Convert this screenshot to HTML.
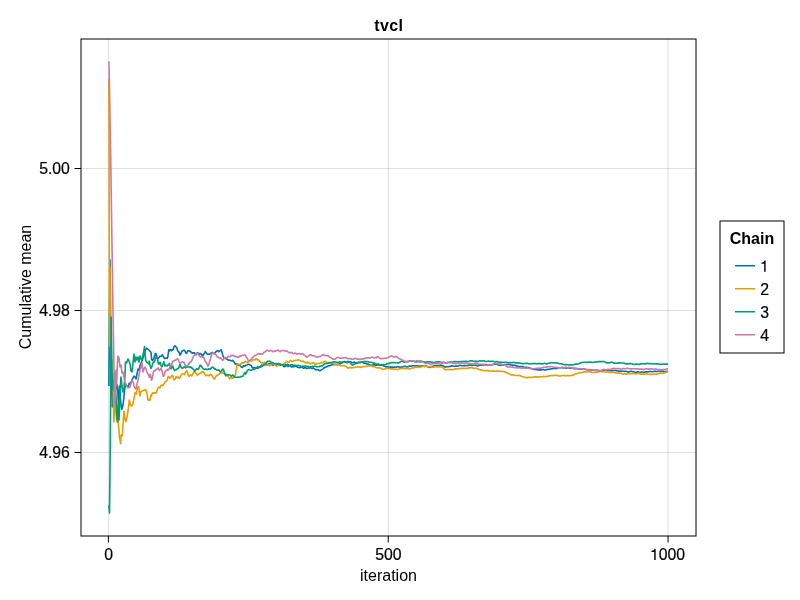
<!DOCTYPE html>
<html><head><meta charset="utf-8"><style>
html,body{margin:0;padding:0;background:#fff;}
svg{display:block;will-change:transform;}
.t{font-family:"Liberation Sans",sans-serif;font-size:16px;fill:#000;}
.tk{font-family:"Liberation Sans",sans-serif;font-size:15.8px;fill:#000;stroke:#000;stroke-width:0.2px;}
.tb{font-family:"Liberation Sans",sans-serif;font-size:16px;font-weight:bold;fill:#000;}
</style></head><body>
<svg width="800" height="600" viewBox="0 0 800 600">
<rect width="800" height="600" fill="#fff"/>
<line x1="81" y1="168.5" x2="696" y2="168.5" stroke="#000" stroke-opacity="0.12" stroke-width="1"/>
<line x1="81" y1="310.5" x2="696" y2="310.5" stroke="#000" stroke-opacity="0.12" stroke-width="1"/>
<line x1="81" y1="452.5" x2="696" y2="452.5" stroke="#000" stroke-opacity="0.12" stroke-width="1"/>
<line x1="108.39" y1="39" x2="108.39" y2="536" stroke="#000" stroke-opacity="0.12" stroke-width="1"/>
<line x1="388.22" y1="39" x2="388.22" y2="536" stroke="#000" stroke-opacity="0.12" stroke-width="1"/>
<line x1="668.05" y1="39" x2="668.05" y2="536" stroke="#000" stroke-opacity="0.12" stroke-width="1"/>
<polyline points="108.9,386.0 109.5,300.0 110.0,260.0 110.6,320.0 111.1,360.0 111.7,385.0 112.3,407.0 112.8,400.0 113.4,392.0 114.0,388.0 115.0,393.0 116.0,387.0 117.3,385.0 118.0,395.0 118.5,408.0 119.0,395.0 119.6,386.0 120.1,395.0 121.0,405.0 121.8,409.4 123.0,405.0 124.0,396.0 124.7,389.0 125.8,384.3 127.0,386.0 128.2,386.7 129.3,383.0 130.0,384.0 132.0,380.0 134.0,376.0 135.0,377.0 136.0,379.0 137.0,374.0 138.0,369.0 139.0,370.0 140.0,366.0 141.0,363.0 142.0,361.0 144.0,355.0 145.0,351.0 146.0,349.0 146.5,348.2 147.6,349.0 149.3,350.5 151.0,352.3 151.7,359.8 152.8,360.4 154.0,358.0 154.3,356.5 154.8,355.8 155.4,353.5 156.0,353.6 156.5,355.6 157.1,357.1 157.6,358.0 158.2,358.4 158.8,357.8 159.3,357.2 159.9,356.1 160.4,356.4 161.0,356.5 161.6,356.0 162.1,354.8 162.7,355.6 163.2,356.0 163.8,357.5 164.4,358.5 164.9,358.4 165.5,358.3 166.0,358.0 166.6,358.3 167.2,358.5 167.7,357.4 168.3,353.5 168.8,349.8 169.4,350.6 170.0,350.6 170.5,349.7 171.1,349.5 171.6,350.7 172.2,350.2 172.8,349.8 173.3,349.0 173.9,347.0 174.4,346.3 175.0,345.7 175.6,346.6 176.1,346.9 176.7,347.8 177.2,349.1 177.8,350.9 178.4,351.8 178.9,351.9 179.5,353.8 180.0,355.1 180.6,354.2 181.1,353.2 181.7,351.7 182.3,350.8 182.8,350.8 183.4,350.4 183.9,350.1 184.5,350.2 185.1,351.3 185.6,352.5 186.2,353.5 186.7,353.1 187.3,351.5 187.9,350.9 188.4,350.9 189.0,350.7 189.5,350.9 190.1,351.2 190.7,351.7 191.2,352.4 191.8,352.5 192.3,353.4 192.9,352.9 193.5,352.9 194.0,352.8 194.6,352.8 195.1,353.7 195.7,355.0 196.3,354.8 196.8,353.4 197.4,353.0 197.9,352.8 198.5,353.2 199.1,354.4 199.6,354.4 200.2,353.5 200.7,353.7 201.3,354.3 201.9,355.1 202.4,356.1 203.0,355.8 203.5,354.6 204.1,353.8 204.7,352.8 205.2,351.7 205.8,352.1 206.3,352.7 206.9,353.8 207.5,354.2 208.0,354.4 208.6,354.3 209.1,354.1 209.7,354.2 210.3,353.8 210.8,353.2 211.4,352.8 211.9,353.3 212.5,352.6 213.0,353.2 213.6,353.4 214.2,353.7 214.7,353.2 215.3,352.4 215.8,351.9 216.4,351.4 217.0,351.0 217.5,350.5 218.1,351.1 218.6,351.7 219.2,351.2 219.8,350.8 220.3,350.5 220.9,349.8 221.4,350.2 222.0,352.3 222.6,354.5 223.1,356.1 223.7,357.2 224.2,357.8 224.8,358.2 225.4,358.5 225.9,358.6 226.5,358.7 227.0,359.1 227.6,359.7 228.2,360.1 228.7,360.0 229.3,360.2 229.8,360.1 230.4,360.8 231.0,360.7 231.5,360.7 232.1,360.8 232.6,360.3 233.2,360.8 233.8,361.9 234.3,362.4 234.9,363.2 235.4,364.1 236.0,363.8 236.6,364.1 237.1,364.6 237.7,365.2 238.2,365.2 238.8,365.2 239.4,365.1 239.9,365.7 240.5,366.1 241.0,366.4 241.6,367.2 242.2,367.4 242.7,367.2 243.3,366.0 243.8,365.7 244.4,365.9 244.9,366.2 245.5,365.3 246.1,365.3 246.6,365.2 247.2,364.8 247.7,364.4 248.3,364.1 248.9,364.4 249.4,364.7 250.0,364.8 250.5,365.2 251.1,365.3 251.7,366.3 252.2,367.4 252.8,368.0 253.3,368.1 253.9,367.7 254.5,367.5 255.0,367.8 255.6,367.9 256.1,368.1 256.7,368.2 257.3,368.4 257.8,368.1 258.4,368.0 258.9,367.5 259.5,367.3 260.1,366.8 260.6,366.5 261.2,366.8 261.7,366.7 262.3,366.2 262.9,365.8 263.4,365.3 264.0,364.5 264.5,364.1 265.1,364.5 265.7,364.8 266.2,365.0 266.8,364.8 267.3,364.8 267.9,364.4 268.5,363.8 269.0,363.9 269.6,363.6 270.1,363.7 270.7,364.0 271.3,364.2 271.8,364.4 272.4,365.0 272.9,365.2 273.5,365.0 274.1,364.3 274.6,363.9 275.2,364.3 275.7,364.9 276.3,365.1 276.8,364.9 277.4,364.7 278.0,364.7 278.5,364.8 279.1,364.9 279.6,365.2 280.2,365.2 280.8,365.2 281.3,365.2 281.9,365.0 282.4,365.1 283.0,365.7 283.6,366.3 284.1,366.7 284.7,366.5 285.2,366.5 285.8,366.0 286.4,365.4 286.9,365.6 287.5,366.1 288.0,366.5 288.6,366.2 289.2,365.9 289.7,365.5 290.3,365.5 290.8,366.3 291.4,366.9 292.0,367.0 292.5,366.8 293.1,366.7 293.6,366.7 294.2,366.5 294.8,366.4 295.3,366.0 295.9,366.1 296.4,366.5 297.0,367.0 297.6,367.1 298.1,367.3 298.7,367.5 299.2,367.6 299.8,367.7 300.4,367.5 300.9,367.1 301.5,367.2 302.0,367.3 302.6,367.6 303.2,368.2 303.7,368.1 304.3,367.9 304.8,367.8 305.4,367.9 306.0,367.9 306.5,368.2 307.1,368.5 307.6,368.3 308.2,368.0 308.7,368.0 309.3,368.1 309.9,367.7 310.4,367.7 311.0,367.9 311.5,368.3 312.1,368.4 312.7,368.2 313.2,367.9 313.8,368.4 314.3,368.7 314.9,369.3 315.5,369.6 316.0,369.9 316.6,369.6 317.1,369.5 317.7,369.8 318.3,369.8 318.8,370.2 319.4,370.7 319.9,370.8 320.5,370.5 321.1,370.0 321.6,369.7 322.2,369.4 322.7,369.1 323.3,368.7 323.9,368.2 324.4,367.6 325.0,367.2 325.5,367.3 326.1,367.0 326.7,366.9 327.2,366.5 327.8,366.0 328.3,365.9 328.9,365.6 329.5,365.7 330.0,365.5 330.6,365.4 331.1,365.2 331.7,364.8 332.3,364.8 332.8,364.7 333.4,364.8 333.9,364.8 334.5,364.6 335.1,364.3 335.6,364.3 336.2,364.5 336.7,364.4 337.3,364.5 337.9,364.2 338.4,364.2 339.0,364.0 339.5,363.6 340.1,363.5 340.6,363.6 341.2,363.3 341.8,363.0 342.3,362.6 342.9,362.1 343.4,361.9 344.0,361.7 344.6,361.6 345.1,361.8 345.7,361.9 346.2,362.1 346.8,362.1 347.4,361.9 347.9,361.4 348.5,361.5 349.0,361.6 349.6,361.7 350.2,361.8 350.7,361.9 351.3,362.0 351.8,362.6 352.4,362.8 353.0,362.7 353.5,362.4 354.1,362.1 354.6,362.3 355.2,362.7 355.8,362.9 356.3,362.8 356.9,362.6 357.4,362.9 358.0,362.5 358.6,362.5 359.1,362.3 359.7,362.6 360.2,362.6 360.8,362.5 361.4,362.2 361.9,361.8 362.5,362.0 363.0,362.6 363.6,363.1 364.2,363.3 364.7,363.2 365.3,363.2 365.8,363.4 366.4,363.7 367.0,364.1 367.5,364.2 368.1,364.3 368.6,364.4 369.2,364.6 369.8,365.1 370.3,365.4 370.9,365.4 371.4,365.3 372.0,365.2 372.5,365.0 373.1,365.0 373.7,364.8 374.2,364.9 374.8,364.9 375.3,365.1 375.9,365.2 376.5,365.2 377.0,365.0 377.6,365.0 378.1,364.9 378.7,365.0 379.3,365.2 379.8,365.1 380.4,365.2 380.9,365.1 381.5,365.1 382.1,365.4 382.6,365.3 383.2,365.5 383.7,365.8 384.3,366.1 384.9,366.4 385.4,366.7 386.0,366.8 386.5,366.9 387.1,366.9 387.7,366.9 388.2,366.8 388.8,366.9 389.3,367.0 389.9,367.1 390.5,367.1 391.0,367.3 391.6,367.1 392.1,367.0 392.7,367.1 393.3,367.2 393.8,367.3 394.4,367.1 394.9,367.0 395.5,367.0 396.1,367.1 396.6,367.1 397.2,366.8 397.7,366.7 398.3,366.8 398.9,367.0 399.4,367.2 400.0,367.1 400.5,367.2 401.1,367.3 401.7,367.1 402.2,367.1 402.8,366.9 403.3,366.6 403.9,366.4 404.5,366.5 405.0,366.4 405.6,366.3 406.1,366.5 406.7,366.9 407.2,367.0 407.8,367.0 408.4,366.6 408.9,366.3 409.5,366.1 410.0,366.1 410.6,366.1 411.2,366.2 411.7,366.0 412.3,365.8 412.8,365.7 413.4,365.7 414.0,365.8 414.5,365.9 415.1,365.9 415.6,366.1 416.2,366.0 416.8,365.7 417.3,365.7 417.9,365.9 418.4,366.1 419.0,366.1 419.6,366.1 420.1,366.2 420.7,366.1 421.2,365.8 421.8,365.7 422.4,365.8 422.9,366.1 423.5,366.2 424.0,366.3 424.6,366.5 425.2,366.2 425.7,366.0 426.3,366.0 426.8,366.1 427.4,366.5 428.0,366.9 428.5,367.1 429.1,367.2 429.6,367.4 430.2,367.2 430.8,366.8 431.3,366.6 431.9,366.7 432.4,366.6 433.0,366.3 433.6,366.0 434.1,365.9 434.7,365.8 435.2,365.9 435.8,365.7 436.4,365.6 436.9,365.4 437.5,365.5 438.0,365.7 438.6,365.6 439.1,365.4 439.7,365.4 440.3,365.3 440.8,365.1 441.4,365.2 441.9,365.4 442.5,365.6 443.1,365.8 443.6,366.2 444.2,366.5 444.7,367.0 445.3,367.1 445.9,366.9 446.4,366.8 447.0,366.6 447.5,366.7 448.1,366.7 448.7,366.6 449.2,366.5 449.8,366.4 450.3,366.4 450.9,366.2 451.5,365.9 452.0,365.8 452.6,366.0 453.1,366.3 453.7,366.3 454.3,366.2 454.8,366.3 455.4,366.3 455.9,366.1 456.5,366.1 457.1,366.2 457.6,366.1 458.2,365.9 458.7,365.6 459.3,365.5 459.9,365.4 460.4,365.4 461.0,365.5 461.5,365.6 462.1,365.7 462.7,365.8 463.2,365.7 463.8,365.7 464.3,365.5 464.9,365.6 465.5,365.7 466.0,365.6 466.6,365.5 467.1,365.5 467.7,365.6 468.3,365.4 468.8,365.1 469.4,364.8 469.9,364.9 470.5,365.1 471.0,365.2 471.6,365.2 472.2,365.4 472.7,365.4 473.3,365.2 473.8,365.3 474.4,365.2 475.0,365.2 475.5,365.1 476.1,365.3 476.6,365.6 477.2,365.9 477.8,366.0 478.3,365.6 478.9,365.4 479.4,365.2 480.0,365.2 480.6,365.3 481.1,365.2 481.7,365.0 482.2,364.9 482.8,364.8 483.4,364.9 483.9,364.9 484.5,364.9 485.0,364.5 485.6,364.5 486.2,364.6 486.7,364.8 487.3,365.2 487.8,365.5 488.4,365.3 489.0,365.2 489.5,365.0 490.1,364.9 490.6,364.9 491.2,364.7 491.8,364.8 492.3,364.6 492.9,364.5 493.4,364.4 494.0,364.3 494.6,364.2 495.1,364.1 495.7,364.3 496.2,364.2 496.8,364.1 497.4,364.5 497.9,364.8 498.5,365.0 499.0,365.2 499.6,365.1 500.2,365.2 500.7,365.2 501.3,365.2 501.8,365.1 502.4,365.1 502.9,365.0 503.5,364.9 504.1,364.7 504.6,364.4 505.2,364.6 505.7,364.6 506.3,364.5 506.9,364.5 507.4,364.5 508.0,364.5 508.5,364.4 509.1,364.5 509.7,364.6 510.2,364.7 510.8,364.9 511.3,365.0 511.9,365.0 512.5,365.1 513.0,365.4 513.6,365.3 514.1,365.3 514.7,365.2 515.3,365.3 515.8,365.5 516.4,365.9 516.9,365.9 517.5,366.1 518.1,366.2 518.6,366.3 519.2,366.5 519.7,366.7 520.3,366.6 520.9,366.6 521.4,366.5 522.0,366.5 522.5,366.6 523.1,366.7 523.7,367.1 524.2,367.4 524.8,367.4 525.3,367.4 525.9,367.4 526.5,367.3 527.0,367.4 527.6,367.5 528.1,367.5 528.7,367.7 529.3,367.8 529.8,368.0 530.4,368.2 530.9,368.4 531.5,368.6 532.1,368.8 532.6,369.1 533.2,369.3 533.7,369.5 534.3,369.4 534.8,369.4 535.4,369.4 536.0,369.5 536.5,369.5 537.1,369.7 537.6,370.0 538.2,370.0 538.8,369.9 539.3,369.9 539.9,369.9 540.4,369.9 541.0,369.9 541.6,369.8 542.1,369.8 542.7,369.7 543.2,369.6 543.8,369.6 544.4,369.9 544.9,370.0 545.5,369.9 546.0,369.7 546.6,369.6 547.2,369.5 547.7,369.4 548.3,369.4 548.8,369.3 549.4,369.2 550.0,369.2 550.5,369.0 551.1,368.8 551.6,368.7 552.2,368.7 552.8,368.7 553.3,368.5 553.9,368.4 554.4,368.4 555.0,368.5 555.6,368.5 556.1,368.4 556.7,368.4 557.2,368.3 557.8,368.0 558.4,367.7 558.9,367.7 559.5,367.7 560.0,367.8 560.6,367.8 561.2,367.8 561.7,367.7 562.3,367.5 562.8,367.7 563.4,367.9 564.0,367.9 564.5,367.8 565.1,367.8 565.6,368.0 566.2,368.1 566.7,368.0 567.3,367.8 567.9,367.8 568.4,367.8 569.0,368.0 569.5,368.1 570.1,368.2 570.7,368.0 571.2,368.0 571.8,368.2 572.3,368.3 572.9,368.4 573.5,368.4 574.0,368.6 574.6,368.6 575.1,368.5 575.7,368.6 576.3,368.7 576.8,368.7 577.4,368.8 577.9,368.9 578.5,368.9 579.1,369.0 579.6,368.9 580.2,368.9 580.7,369.1 581.3,369.1 581.9,369.1 582.4,369.2 583.0,369.2 583.5,369.1 584.1,369.0 584.7,369.0 585.2,369.2 585.8,369.5 586.3,369.6 586.9,369.7 587.5,369.7 588.0,369.6 588.6,369.8 589.1,369.7 589.7,369.7 590.3,369.7 590.8,369.9 591.4,370.0 591.9,370.0 592.5,370.0 593.1,370.1 593.6,370.2 594.2,370.3 594.7,370.4 595.3,370.2 595.9,370.2 596.4,370.2 597.0,370.3 597.5,370.4 598.1,370.6 598.6,370.6 599.2,370.6 599.8,370.6 600.3,370.7 600.9,370.6 601.4,370.6 602.0,370.6 602.6,370.5 603.1,370.6 603.7,370.6 604.2,370.4 604.8,370.1 605.4,370.1 605.9,370.2 606.5,370.3 607.0,370.3 607.6,370.4 608.2,370.4 608.7,370.4 609.3,370.5 609.8,370.4 610.4,370.8 611.0,370.8 611.5,370.7 612.1,370.7 612.6,370.5 613.2,370.5 613.8,370.5 614.3,370.5 614.9,370.5 615.4,370.5 616.0,370.6 616.6,370.7 617.1,370.7 617.7,370.8 618.2,371.0 618.8,371.3 619.4,371.3 619.9,371.2 620.5,371.1 621.0,371.1 621.6,371.2 622.2,371.2 622.7,371.2 623.3,371.3 623.8,371.3 624.4,371.4 625.0,371.3 625.5,371.2 626.1,371.2 626.6,371.5 627.2,371.8 627.8,371.9 628.3,371.9 628.9,371.9 629.4,371.8 630.0,371.5 630.5,371.4 631.1,371.3 631.7,371.4 632.2,371.5 632.8,371.7 633.3,371.8 633.9,371.9 634.5,372.1 635.0,372.3 635.6,372.3 636.1,372.2 636.7,372.0 637.3,371.9 637.8,371.8 638.4,371.9 638.9,372.1 639.5,372.4 640.1,372.4 640.6,372.3 641.2,372.2 641.7,372.0 642.3,372.0 642.9,372.0 643.4,372.1 644.0,372.2 644.5,372.1 645.1,372.0 645.7,371.9 646.2,371.9 646.8,371.9 647.3,372.0 647.9,371.8 648.5,371.8 649.0,371.6 649.6,371.6 650.1,371.5 650.7,371.5 651.3,371.5 651.8,371.7 652.4,371.7 652.9,371.6 653.5,371.5 654.1,371.3 654.6,371.2 655.2,371.4 655.7,371.4 656.3,371.5 656.9,371.5 657.4,371.4 658.0,371.4 658.5,371.3 659.1,371.2 659.7,371.4 660.2,371.4 660.8,371.4 661.3,371.3 661.9,371.2 662.4,371.2 663.0,371.3 663.6,371.3 664.1,371.5 664.7,371.5 665.2,371.4 665.8,371.6 666.4,371.5 666.9,371.4 667.5,371.3 668.0,371.1" fill="none" stroke="#0072B2" stroke-width="1.6" stroke-linejoin="round"/>
<polyline points="108.9,79.0 109.5,346.0 110.0,267.0 110.6,350.0 111.1,365.0 111.7,360.0 112.3,380.0 112.8,375.0 113.4,400.0 113.9,422.0 114.5,410.0 115.0,400.0 115.6,395.0 116.1,415.0 116.7,420.0 117.3,400.0 117.8,410.0 118.4,425.0 119.0,430.0 119.5,438.0 120.1,440.0 120.6,443.8 121.2,435.0 121.8,434.5 122.3,436.0 123.0,425.0 124.0,411.2 124.7,417.0 125.8,421.7 127.0,417.0 128.2,410.0 129.3,400.0 130.5,405.3 131.7,406.0 132.8,404.0 134.0,398.3 135.2,392.5 136.3,394.0 137.5,387.8 138.7,386.7 139.8,396.0 141.0,391.3 142.2,391.3 143.3,390.2 144.5,390.2 145.7,389.6 146.8,392.5 148.0,400.0 149.2,399.5 149.2,400.7 149.8,400.3 150.4,397.9 150.9,395.1 151.5,395.9 152.0,393.9 152.6,392.8 153.2,393.2 153.7,393.1 154.3,392.8 154.8,393.0 155.4,393.1 156.0,393.3 156.5,391.5 157.1,390.4 157.6,388.8 158.2,387.6 158.8,387.2 159.3,387.4 159.9,388.0 160.4,386.5 161.0,385.5 161.6,385.1 162.1,385.0 162.7,385.6 163.2,385.1 163.8,383.9 164.4,383.6 164.9,381.9 165.5,381.7 166.0,381.4 166.6,381.1 167.2,379.4 167.7,377.6 168.3,376.5 168.8,376.8 169.4,377.8 170.0,378.2 170.5,378.0 171.1,376.7 171.6,376.0 172.2,375.3 172.8,375.6 173.3,378.0 173.9,379.7 174.4,379.8 175.0,379.4 175.6,378.0 176.1,376.6 176.7,377.1 177.2,377.8 177.8,377.0 178.4,377.1 178.9,378.0 179.5,378.2 180.0,377.6 180.6,376.2 181.1,375.0 181.7,374.2 182.3,373.9 182.8,373.9 183.4,374.1 183.9,374.5 184.5,374.6 185.1,373.1 185.6,371.9 186.2,371.2 186.7,370.4 187.3,372.3 187.9,374.2 188.4,375.3 189.0,376.4 189.5,375.8 190.1,375.1 190.7,375.0 191.2,375.2 191.8,375.9 192.3,374.8 192.9,373.6 193.5,372.8 194.0,371.8 194.6,371.6 195.1,372.3 195.7,373.1 196.3,373.2 196.8,374.6 197.4,375.5 197.9,374.7 198.5,374.1 199.1,373.9 199.6,373.3 200.2,373.3 200.7,373.0 201.3,372.2 201.9,371.8 202.4,371.7 203.0,371.9 203.5,372.4 204.1,372.7 204.7,374.5 205.2,375.0 205.8,375.6 206.3,375.7 206.9,375.2 207.5,375.3 208.0,375.2 208.6,375.6 209.1,375.8 209.7,375.1 210.3,374.4 210.8,374.5 211.4,374.9 211.9,375.8 212.5,376.6 213.0,377.2 213.6,378.4 214.2,379.1 214.7,378.8 215.3,377.8 215.8,376.3 216.4,376.0 217.0,375.3 217.5,375.2 218.1,374.6 218.6,374.4 219.2,374.3 219.8,373.6 220.3,373.1 220.9,372.9 221.4,372.8 222.0,372.5 222.6,372.4 223.1,373.4 223.7,373.4 224.2,373.6 224.8,373.3 225.4,373.5 225.9,374.2 226.5,374.8 227.0,375.7 227.6,375.6 228.2,376.4 228.7,377.0 229.3,378.0 229.8,379.0 230.4,378.3 231.0,377.6 231.5,377.4 232.1,378.1 232.6,378.5 233.2,378.0 233.8,376.6 234.3,376.0 234.9,376.1 235.4,374.2 236.0,371.6 236.6,368.0 237.1,364.9 237.7,363.7 238.2,364.1 238.8,364.6 239.4,364.8 239.9,364.3 240.5,364.4 241.0,363.7 241.6,363.1 242.2,362.8 242.7,362.9 243.3,362.8 243.8,362.9 244.4,362.5 244.9,361.7 245.5,361.4 246.1,361.7 246.6,361.9 247.2,362.0 247.7,362.3 248.3,362.0 248.9,361.5 249.4,360.8 250.0,360.7 250.5,360.1 251.1,360.9 251.7,360.7 252.2,360.1 252.8,360.0 253.3,359.7 253.9,359.4 254.5,359.9 255.0,359.9 255.6,359.5 256.1,358.8 256.7,359.1 257.3,359.7 257.8,359.9 258.4,359.9 258.9,360.3 259.5,361.0 260.1,361.4 260.6,362.1 261.2,363.0 261.7,362.8 262.3,362.8 262.9,363.1 263.4,363.2 264.0,362.7 264.5,362.3 265.1,362.5 265.7,363.4 266.2,363.2 266.8,363.9 267.3,363.9 267.9,364.2 268.5,364.8 269.0,365.4 269.6,365.7 270.1,365.4 270.7,365.3 271.3,364.8 271.8,363.7 272.4,363.8 272.9,364.0 273.5,364.4 274.1,364.1 274.6,364.1 275.2,364.5 275.7,365.3 276.3,365.9 276.8,365.9 277.4,366.0 278.0,365.5 278.5,365.0 279.1,364.9 279.6,364.6 280.2,364.5 280.8,364.5 281.3,364.9 281.9,365.1 282.4,364.9 283.0,364.8 283.6,364.3 284.1,363.7 284.7,363.6 285.2,362.9 285.8,362.4 286.4,361.5 286.9,361.3 287.5,361.8 288.0,361.9 288.6,362.1 289.2,361.9 289.7,361.3 290.3,360.5 290.8,360.5 291.4,361.1 292.0,361.5 292.5,361.4 293.1,361.2 293.6,360.8 294.2,360.6 294.8,360.5 295.3,360.4 295.9,360.5 296.4,360.4 297.0,360.2 297.6,359.8 298.1,359.9 298.7,359.8 299.2,360.0 299.8,360.2 300.4,360.6 300.9,361.3 301.5,361.4 302.0,361.4 302.6,361.2 303.2,361.1 303.7,361.7 304.3,362.2 304.8,362.3 305.4,362.8 306.0,362.6 306.5,362.9 307.1,362.9 307.6,362.1 308.2,362.4 308.7,363.0 309.3,363.2 309.9,363.5 310.4,363.5 311.0,363.6 311.5,363.3 312.1,363.0 312.7,362.8 313.2,362.8 313.8,363.1 314.3,363.2 314.9,364.0 315.5,364.2 316.0,364.4 316.6,364.0 317.1,363.5 317.7,363.6 318.3,363.4 318.8,363.5 319.4,363.5 319.9,363.3 320.5,363.0 321.1,362.7 321.6,362.4 322.2,362.4 322.7,362.6 323.3,362.4 323.9,362.0 324.4,361.6 325.0,361.2 325.5,361.3 326.1,361.9 326.7,362.5 327.2,362.8 327.8,363.0 328.3,362.9 328.9,362.7 329.5,362.4 330.0,362.3 330.6,362.5 331.1,363.0 331.7,363.3 332.3,363.5 332.8,363.3 333.4,363.6 333.9,363.8 334.5,364.2 335.1,364.4 335.6,364.7 336.2,364.6 336.7,364.5 337.3,365.0 337.9,364.7 338.4,364.7 339.0,365.0 339.5,365.0 340.1,365.2 340.6,365.6 341.2,365.7 341.8,365.8 342.3,365.8 342.9,365.6 343.4,365.5 344.0,365.6 344.6,365.9 345.1,366.2 345.7,366.2 346.2,366.7 346.8,367.3 347.4,367.9 347.9,368.0 348.5,367.9 349.0,367.9 349.6,367.9 350.2,367.5 350.7,367.4 351.3,367.9 351.8,367.7 352.4,367.8 353.0,367.7 353.5,367.5 354.1,367.7 354.6,367.4 355.2,367.2 355.8,367.3 356.3,367.2 356.9,367.1 357.4,366.9 358.0,366.7 358.6,367.0 359.1,366.9 359.7,367.1 360.2,367.0 360.8,367.2 361.4,367.4 361.9,367.0 362.5,366.8 363.0,366.6 363.6,366.5 364.2,366.8 364.7,366.8 365.3,366.4 365.8,366.3 366.4,366.2 367.0,366.4 367.5,366.5 368.1,366.1 368.6,365.8 369.2,365.7 369.8,365.8 370.3,365.9 370.9,366.0 371.4,366.0 372.0,366.0 372.5,366.4 373.1,366.7 373.7,366.6 374.2,366.6 374.8,366.7 375.3,367.1 375.9,367.5 376.5,367.7 377.0,367.9 377.6,367.8 378.1,367.6 378.7,367.8 379.3,367.8 379.8,368.0 380.4,368.3 380.9,368.6 381.5,368.8 382.1,369.2 382.6,369.6 383.2,369.3 383.7,369.2 384.3,369.1 384.9,368.9 385.4,368.7 386.0,368.6 386.5,368.3 387.1,368.3 387.7,368.4 388.2,368.6 388.8,368.5 389.3,368.5 389.9,368.6 390.5,368.8 391.0,368.8 391.6,368.9 392.1,368.9 392.7,368.8 393.3,369.1 393.8,369.2 394.4,369.2 394.9,369.4 395.5,369.3 396.1,369.3 396.6,369.3 397.2,369.6 397.7,369.4 398.3,369.2 398.9,369.0 399.4,368.8 400.0,368.6 400.5,368.5 401.1,368.5 401.7,368.4 402.2,368.4 402.8,368.5 403.3,368.3 403.9,368.3 404.5,368.5 405.0,368.7 405.6,368.7 406.1,368.7 406.7,368.5 407.2,368.5 407.8,368.7 408.4,368.6 408.9,368.6 409.5,368.8 410.0,368.9 410.6,368.8 411.2,368.5 411.7,368.2 412.3,367.8 412.8,368.0 413.4,368.0 414.0,367.9 414.5,367.6 415.1,367.2 415.6,367.1 416.2,367.0 416.8,367.1 417.3,367.1 417.9,367.3 418.4,367.4 419.0,367.4 419.6,367.2 420.1,367.1 420.7,367.0 421.2,366.9 421.8,366.5 422.4,366.5 422.9,366.5 423.5,366.4 424.0,366.4 424.6,366.3 425.2,366.4 425.7,366.4 426.3,366.3 426.8,366.4 427.4,366.6 428.0,366.7 428.5,366.7 429.1,366.6 429.6,366.6 430.2,366.7 430.8,366.6 431.3,366.8 431.9,367.0 432.4,367.1 433.0,367.4 433.6,367.3 434.1,367.1 434.7,366.8 435.2,366.7 435.8,366.8 436.4,366.8 436.9,367.0 437.5,366.8 438.0,366.9 438.6,366.9 439.1,366.9 439.7,367.0 440.3,367.0 440.8,366.9 441.4,366.8 441.9,366.8 442.5,367.1 443.1,367.9 443.6,368.5 444.2,369.0 444.7,369.5 445.3,369.8 445.9,369.6 446.4,369.7 447.0,369.7 447.5,369.5 448.1,369.5 448.7,369.5 449.2,369.5 449.8,369.6 450.3,369.6 450.9,369.5 451.5,369.6 452.0,369.5 452.6,369.6 453.1,369.6 453.7,369.5 454.3,369.3 454.8,369.0 455.4,369.0 455.9,368.8 456.5,368.8 457.1,368.9 457.6,369.0 458.2,368.7 458.7,368.6 459.3,368.6 459.9,368.6 460.4,368.7 461.0,368.4 461.5,368.4 462.1,368.4 462.7,368.5 463.2,368.4 463.8,368.4 464.3,368.4 464.9,368.5 465.5,368.4 466.0,368.2 466.6,368.4 467.1,368.4 467.7,368.2 468.3,368.0 468.8,367.7 469.4,367.7 469.9,367.9 470.5,367.9 471.0,367.6 471.6,367.6 472.2,367.7 472.7,368.0 473.3,368.3 473.8,368.4 474.4,368.4 475.0,368.3 475.5,368.1 476.1,368.2 476.6,368.3 477.2,368.7 477.8,369.0 478.3,369.1 478.9,369.3 479.4,369.6 480.0,369.9 480.6,369.9 481.1,369.9 481.7,370.2 482.2,370.3 482.8,370.2 483.4,370.4 483.9,370.6 484.5,370.7 485.0,370.7 485.6,370.5 486.2,370.5 486.7,370.6 487.3,370.8 487.8,371.0 488.4,370.8 489.0,370.8 489.5,370.9 490.1,371.0 490.6,371.2 491.2,371.2 491.8,371.1 492.3,371.2 492.9,371.2 493.4,370.9 494.0,371.0 494.6,371.1 495.1,371.2 495.7,371.2 496.2,371.1 496.8,371.0 497.4,371.0 497.9,371.2 498.5,371.1 499.0,371.2 499.6,371.2 500.2,371.1 500.7,371.2 501.3,371.3 501.8,371.3 502.4,371.5 502.9,371.5 503.5,371.5 504.1,371.6 504.6,371.8 505.2,372.0 505.7,372.4 506.3,372.5 506.9,372.9 507.4,373.1 508.0,373.1 508.5,373.4 509.1,373.7 509.7,373.9 510.2,374.4 510.8,374.8 511.3,374.9 511.9,375.0 512.5,374.8 513.0,374.9 513.6,375.2 514.1,375.3 514.7,375.3 515.3,375.4 515.8,375.5 516.4,375.5 516.9,375.6 517.5,375.5 518.1,375.4 518.6,375.4 519.2,375.5 519.7,375.6 520.3,375.7 520.9,376.0 521.4,376.4 522.0,376.6 522.5,376.8 523.1,376.8 523.7,377.0 524.2,377.1 524.8,377.3 525.3,377.5 525.9,377.6 526.5,377.8 527.0,377.8 527.6,377.6 528.1,377.5 528.7,377.4 529.3,377.5 529.8,377.4 530.4,377.4 530.9,377.4 531.5,377.4 532.1,377.3 532.6,377.3 533.2,377.1 533.7,377.0 534.3,377.0 534.8,376.8 535.4,376.9 536.0,376.9 536.5,376.9 537.1,376.9 537.6,376.9 538.2,377.1 538.8,377.1 539.3,377.0 539.9,376.8 540.4,376.5 541.0,376.7 541.6,376.7 542.1,376.8 542.7,376.6 543.2,376.5 543.8,376.4 544.4,376.6 544.9,376.6 545.5,376.6 546.0,376.6 546.6,376.5 547.2,376.4 547.7,376.4 548.3,376.1 548.8,376.0 549.4,375.9 550.0,375.9 550.5,375.6 551.1,375.6 551.6,375.5 552.2,375.5 552.8,375.6 553.3,375.6 553.9,375.5 554.4,375.4 555.0,375.3 555.6,375.3 556.1,375.3 556.7,375.5 557.2,375.7 557.8,375.8 558.4,375.8 558.9,376.0 559.5,376.0 560.0,376.0 560.6,376.0 561.2,375.8 561.7,375.7 562.3,375.5 562.8,375.5 563.4,375.6 564.0,375.7 564.5,375.6 565.1,375.7 565.6,375.7 566.2,375.7 566.7,375.6 567.3,375.5 567.9,375.6 568.4,375.6 569.0,375.8 569.5,375.7 570.1,375.7 570.7,375.5 571.2,375.5 571.8,375.4 572.3,375.2 572.9,375.1 573.5,375.0 574.0,374.7 574.6,374.4 575.1,374.0 575.7,373.8 576.3,373.7 576.8,373.6 577.4,373.4 577.9,373.2 578.5,373.0 579.1,372.9 579.6,373.0 580.2,372.8 580.7,372.6 581.3,372.5 581.9,372.5 582.4,372.3 583.0,372.2 583.5,372.0 584.1,371.9 584.7,371.9 585.2,371.9 585.8,372.0 586.3,372.0 586.9,371.8 587.5,371.7 588.0,371.7 588.6,371.7 589.1,371.8 589.7,372.0 590.3,371.9 590.8,371.9 591.4,372.0 591.9,372.3 592.5,372.5 593.1,372.5 593.6,372.5 594.2,372.5 594.7,372.5 595.3,372.5 595.9,372.4 596.4,372.2 597.0,372.2 597.5,372.1 598.1,371.9 598.6,371.8 599.2,371.7 599.8,371.6 600.3,371.5 600.9,371.4 601.4,371.6 602.0,371.7 602.6,371.7 603.1,371.6 603.7,371.6 604.2,371.6 604.8,371.8 605.4,372.1 605.9,372.2 606.5,372.2 607.0,372.0 607.6,372.0 608.2,372.0 608.7,372.3 609.3,372.5 609.8,372.5 610.4,372.4 611.0,372.5 611.5,372.5 612.1,372.4 612.6,372.4 613.2,372.4 613.8,372.5 614.3,372.4 614.9,372.6 615.4,372.7 616.0,372.9 616.6,372.9 617.1,372.9 617.7,373.1 618.2,373.1 618.8,373.0 619.4,373.1 619.9,373.1 620.5,373.2 621.0,373.3 621.6,373.6 622.2,374.0 622.7,374.3 623.3,374.2 623.8,373.9 624.4,373.8 625.0,373.9 625.5,373.9 626.1,374.0 626.6,374.0 627.2,373.9 627.8,373.8 628.3,373.8 628.9,373.7 629.4,373.7 630.0,373.8 630.5,373.8 631.1,373.7 631.7,373.7 632.2,373.6 632.8,373.4 633.3,373.5 633.9,373.6 634.5,373.6 635.0,373.7 635.6,373.9 636.1,373.8 636.7,373.8 637.3,373.7 637.8,373.6 638.4,373.5 638.9,373.4 639.5,373.3 640.1,374.0 640.6,374.1 641.2,374.1 641.7,374.1 642.3,374.1 642.9,374.1 643.4,374.1 644.0,374.3 644.5,374.3 645.1,374.2 645.7,374.0 646.2,373.9 646.8,373.9 647.3,374.1 647.9,374.2 648.5,374.3 649.0,374.4 649.6,374.4 650.1,374.4 650.7,374.4 651.3,374.4 651.8,374.4 652.4,374.5 652.9,374.5 653.5,374.3 654.1,374.1 654.6,374.2 655.2,374.1 655.7,374.2 656.3,374.2 656.9,374.1 657.4,373.9 658.0,373.8 658.5,373.8 659.1,373.7 659.7,373.5 660.2,373.4 660.8,373.3 661.3,373.3 661.9,373.3 662.4,373.2 663.0,373.0 663.6,373.1 664.1,373.0 664.7,372.6 665.2,372.4 665.8,372.1 666.4,372.1 666.9,372.1 667.5,371.9 668.0,371.9" fill="none" stroke="#E69F00" stroke-width="1.6" stroke-linejoin="round"/>
<polyline points="108.9,505.0 109.5,513.0 110.0,470.0 110.6,400.0 111.1,317.0 111.7,352.0 112.3,383.0 112.8,390.0 113.4,380.0 114.0,385.0 114.5,372.0 115.0,380.0 115.6,392.0 116.1,400.0 116.7,410.0 117.3,422.0 117.8,415.0 118.4,405.0 119.0,420.0 119.5,410.0 120.1,395.0 120.6,383.0 121.0,377.0 122.0,386.0 123.0,392.0 124.0,388.0 125.0,375.0 125.5,362.0 126.5,363.0 128.0,359.0 129.0,361.0 130.0,364.0 131.0,371.0 132.0,372.0 133.0,363.0 134.0,354.0 135.0,362.0 136.0,357.0 137.0,360.0 138.0,357.0 139.0,362.0 140.0,356.0 141.0,359.0 142.0,360.0 143.0,355.0 144.0,350.0 144.5,346.5 145.5,359.0 146.0,361.0 147.0,362.5 148.0,363.0 149.0,364.0 149.2,361.1 149.8,363.9 150.4,366.3 150.9,368.5 151.5,367.3 152.0,366.1 152.6,364.2 153.2,362.1 153.7,362.4 154.3,361.6 154.8,361.1 155.4,358.8 156.0,357.1 156.5,357.3 157.1,358.2 157.6,359.1 158.2,362.9 158.8,364.3 159.3,363.5 159.9,362.3 160.4,362.6 161.0,364.9 161.6,366.7 162.1,366.6 162.7,365.1 163.2,363.9 163.8,361.7 164.4,363.4 164.9,365.8 165.5,365.8 166.0,365.5 166.6,365.2 167.2,366.0 167.7,365.1 168.3,365.1 168.8,364.5 169.4,363.5 170.0,365.6 170.5,367.7 171.1,368.9 171.6,367.8 172.2,366.0 172.8,366.1 173.3,367.9 173.9,369.2 174.4,370.4 175.0,370.2 175.6,369.8 176.1,369.8 176.7,369.3 177.2,368.6 177.8,368.6 178.4,368.5 178.9,367.4 179.5,365.8 180.0,364.1 180.6,365.9 181.1,367.5 181.7,368.0 182.3,368.2 182.8,368.2 183.4,367.7 183.9,367.0 184.5,366.8 185.1,367.0 185.6,368.0 186.2,367.2 186.7,367.0 187.3,366.7 187.9,366.9 188.4,367.1 189.0,366.9 189.5,367.3 190.1,367.6 190.7,366.9 191.2,367.4 191.8,368.1 192.3,368.1 192.9,369.0 193.5,369.2 194.0,370.3 194.6,371.1 195.1,371.1 195.7,370.2 196.3,369.0 196.8,368.7 197.4,368.7 197.9,369.2 198.5,369.5 199.1,367.6 199.6,366.7 200.2,365.4 200.7,365.3 201.3,366.3 201.9,367.2 202.4,367.7 203.0,368.4 203.5,369.0 204.1,369.3 204.7,369.4 205.2,369.0 205.8,369.1 206.3,369.1 206.9,369.6 207.5,369.5 208.0,369.3 208.6,368.9 209.1,368.8 209.7,369.1 210.3,369.1 210.8,368.6 211.4,367.6 211.9,367.6 212.5,367.1 213.0,367.2 213.6,367.8 214.2,368.6 214.7,369.1 215.3,368.8 215.8,369.4 216.4,369.8 217.0,370.2 217.5,370.3 218.1,370.2 218.6,369.8 219.2,370.2 219.8,371.2 220.3,371.9 220.9,371.7 221.4,370.9 222.0,370.2 222.6,369.0 223.1,369.2 223.7,370.0 224.2,372.0 224.8,373.9 225.4,375.1 225.9,375.9 226.5,375.0 227.0,374.8 227.6,374.8 228.2,374.8 228.7,374.9 229.3,375.0 229.8,374.9 230.4,375.2 231.0,376.1 231.5,376.1 232.1,375.7 232.6,374.9 233.2,375.3 233.8,376.2 234.3,377.2 234.9,377.3 235.4,377.3 236.0,377.2 236.6,377.2 237.1,377.2 237.7,377.3 238.2,377.1 238.8,377.2 239.4,377.3 239.9,377.1 240.5,376.9 241.0,376.4 241.6,376.6 242.2,376.5 242.7,376.3 243.3,375.5 243.8,374.1 244.4,373.4 244.9,372.4 245.5,374.1 246.1,373.5 246.6,372.3 247.2,370.9 247.7,370.1 248.3,369.8 248.9,369.4 249.4,369.8 250.0,370.2 250.5,370.3 251.1,370.2 251.7,370.1 252.2,369.7 252.8,369.4 253.3,369.4 253.9,369.4 254.5,369.2 255.0,368.7 255.6,368.3 256.1,368.0 256.7,367.7 257.3,367.0 257.8,366.5 258.4,367.1 258.9,367.2 259.5,367.2 260.1,367.3 260.6,366.2 261.2,365.7 261.7,365.1 262.3,365.3 262.9,365.4 263.4,365.1 264.0,364.8 264.5,364.7 265.1,364.4 265.7,363.9 266.2,362.9 266.8,362.0 267.3,361.4 267.9,361.4 268.5,361.2 269.0,361.0 269.6,361.2 270.1,361.4 270.7,361.9 271.3,362.4 271.8,362.5 272.4,362.6 272.9,362.7 273.5,363.0 274.1,363.6 274.6,363.9 275.2,363.8 275.7,363.8 276.3,363.5 276.8,363.6 277.4,364.0 278.0,363.6 278.5,363.5 279.1,363.7 279.6,363.7 280.2,364.1 280.8,364.7 281.3,364.5 281.9,364.5 282.4,364.5 283.0,364.6 283.6,365.0 284.1,365.1 284.7,365.0 285.2,364.9 285.8,364.8 286.4,364.8 286.9,364.6 287.5,364.3 288.0,364.5 288.6,364.8 289.2,365.3 289.7,365.2 290.3,365.0 290.8,364.8 291.4,364.7 292.0,364.7 292.5,365.0 293.1,365.1 293.6,365.2 294.2,365.2 294.8,365.3 295.3,365.2 295.9,365.4 296.4,365.6 297.0,365.6 297.6,365.5 298.1,365.4 298.7,365.5 299.2,365.7 299.8,365.8 300.4,366.0 300.9,366.1 301.5,366.4 302.0,366.6 302.6,366.1 303.2,366.3 303.7,366.4 304.3,366.2 304.8,366.1 305.4,365.8 306.0,366.2 306.5,366.6 307.1,366.4 307.6,366.5 308.2,366.4 308.7,367.0 309.3,367.2 309.9,366.9 310.4,366.8 311.0,366.8 311.5,366.8 312.1,366.4 312.7,366.4 313.2,366.7 313.8,366.3 314.3,366.4 314.9,366.1 315.5,366.4 316.0,366.6 316.6,366.5 317.1,366.7 317.7,366.8 318.3,366.7 318.8,366.7 319.4,366.6 319.9,366.0 320.5,366.1 321.1,366.0 321.6,365.9 322.2,365.9 322.7,365.5 323.3,364.9 323.9,364.4 324.4,363.9 325.0,363.7 325.5,363.7 326.1,363.6 326.7,363.5 327.2,363.5 327.8,363.2 328.3,363.0 328.9,362.7 329.5,362.7 330.0,362.9 330.6,362.9 331.1,362.6 331.7,362.5 332.3,362.2 332.8,362.1 333.4,362.1 333.9,361.8 334.5,361.8 335.1,361.9 335.6,361.9 336.2,362.2 336.7,362.3 337.3,362.4 337.9,362.4 338.4,362.3 339.0,362.1 339.5,361.9 340.1,362.0 340.6,362.3 341.2,362.2 341.8,362.4 342.3,362.2 342.9,362.0 343.4,362.0 344.0,361.8 344.6,362.2 345.1,362.3 345.7,362.3 346.2,362.6 346.8,362.7 347.4,362.7 347.9,362.1 348.5,361.9 349.0,362.0 349.6,362.2 350.2,362.6 350.7,363.5 351.3,364.1 351.8,364.8 352.4,365.1 353.0,364.8 353.5,364.6 354.1,364.5 354.6,364.1 355.2,363.8 355.8,363.5 356.3,363.2 356.9,363.2 357.4,363.1 358.0,362.8 358.6,362.3 359.1,362.5 359.7,362.2 360.2,362.1 360.8,362.2 361.4,362.3 361.9,362.1 362.5,361.8 363.0,361.8 363.6,361.9 364.2,361.8 364.7,361.4 365.3,361.4 365.8,361.5 366.4,361.7 367.0,361.6 367.5,361.6 368.1,361.7 368.6,362.1 369.2,362.1 369.8,362.2 370.3,362.3 370.9,362.3 371.4,362.4 372.0,362.6 372.5,362.8 373.1,363.1 373.7,363.0 374.2,363.1 374.8,363.3 375.3,363.6 375.9,364.2 376.5,364.3 377.0,364.0 377.6,364.0 378.1,363.9 378.7,364.4 379.3,364.9 379.8,364.9 380.4,365.0 380.9,364.8 381.5,364.4 382.1,364.6 382.6,364.7 383.2,364.6 383.7,364.5 384.3,364.7 384.9,364.7 385.4,364.7 386.0,364.4 386.5,363.8 387.1,363.6 387.7,363.6 388.2,363.7 388.8,363.6 389.3,363.4 389.9,363.0 390.5,362.9 391.0,362.8 391.6,362.7 392.1,362.6 392.7,362.6 393.3,362.7 393.8,362.8 394.4,362.6 394.9,362.4 395.5,362.7 396.1,362.7 396.6,362.7 397.2,362.7 397.7,362.9 398.3,363.0 398.9,362.7 399.4,362.6 400.0,362.2 400.5,361.8 401.1,361.5 401.7,361.1 402.2,361.0 402.8,361.4 403.3,361.8 403.9,362.1 404.5,362.1 405.0,362.0 405.6,361.8 406.1,361.7 406.7,361.6 407.2,361.5 407.8,361.6 408.4,361.6 408.9,361.4 409.5,361.0 410.0,360.9 410.6,360.9 411.2,361.0 411.7,361.3 412.3,361.3 412.8,361.3 413.4,361.0 414.0,361.3 414.5,361.7 415.1,361.9 415.6,361.9 416.2,361.9 416.8,361.7 417.3,361.4 417.9,361.5 418.4,361.6 419.0,361.7 419.6,361.9 420.1,361.9 420.7,362.0 421.2,361.9 421.8,361.8 422.4,361.7 422.9,361.5 423.5,361.7 424.0,361.7 424.6,362.1 425.2,362.1 425.7,362.2 426.3,362.1 426.8,361.8 427.4,361.7 428.0,361.9 428.5,361.8 429.1,361.9 429.6,361.9 430.2,361.9 430.8,362.0 431.3,362.1 431.9,361.9 432.4,362.1 433.0,362.4 433.6,362.6 434.1,362.6 434.7,362.4 435.2,362.1 435.8,362.1 436.4,362.1 436.9,361.9 437.5,361.7 438.0,361.9 438.6,361.9 439.1,361.7 439.7,361.9 440.3,362.1 440.8,362.4 441.4,362.5 441.9,362.4 442.5,362.3 443.1,362.2 443.6,362.2 444.2,362.4 444.7,362.6 445.3,362.9 445.9,363.0 446.4,363.0 447.0,362.7 447.5,362.5 448.1,362.4 448.7,362.3 449.2,362.3 449.8,362.2 450.3,362.0 450.9,362.0 451.5,362.0 452.0,362.0 452.6,362.0 453.1,362.0 453.7,361.8 454.3,361.6 454.8,361.7 455.4,361.6 455.9,361.6 456.5,361.7 457.1,361.8 457.6,361.7 458.2,361.8 458.7,361.8 459.3,361.7 459.9,361.6 460.4,361.5 461.0,361.5 461.5,361.5 462.1,361.7 462.7,361.6 463.2,361.4 463.8,361.3 464.3,361.4 464.9,361.5 465.5,361.3 466.0,361.3 466.6,361.3 467.1,361.5 467.7,361.5 468.3,361.5 468.8,361.4 469.4,361.1 469.9,360.9 470.5,360.9 471.0,360.9 471.6,360.8 472.2,360.9 472.7,361.0 473.3,361.3 473.8,361.3 474.4,361.3 475.0,361.4 475.5,361.3 476.1,361.1 476.6,361.2 477.2,361.6 477.8,361.7 478.3,361.4 478.9,361.1 479.4,360.8 480.0,360.8 480.6,360.9 481.1,361.0 481.7,361.0 482.2,361.0 482.8,360.9 483.4,360.8 483.9,360.7 484.5,361.0 485.0,361.4 485.6,361.5 486.2,361.5 486.7,361.5 487.3,361.3 487.8,361.2 488.4,361.1 489.0,361.3 489.5,361.5 490.1,361.5 490.6,361.4 491.2,361.3 491.8,361.2 492.3,361.2 492.9,361.4 493.4,361.4 494.0,361.7 494.6,361.9 495.1,362.0 495.7,361.8 496.2,361.5 496.8,361.5 497.4,361.7 497.9,361.9 498.5,362.1 499.0,362.2 499.6,362.2 500.2,362.1 500.7,362.2 501.3,362.4 501.8,362.4 502.4,362.4 502.9,362.4 503.5,362.4 504.1,362.2 504.6,362.3 505.2,362.3 505.7,362.2 506.3,362.3 506.9,362.4 507.4,362.5 508.0,362.7 508.5,362.7 509.1,362.7 509.7,362.4 510.2,362.6 510.8,362.5 511.3,362.6 511.9,362.7 512.5,362.6 513.0,362.5 513.6,362.4 514.1,362.4 514.7,362.6 515.3,362.8 515.8,362.9 516.4,362.8 516.9,362.9 517.5,362.9 518.1,362.9 518.6,362.9 519.2,363.0 519.7,363.1 520.3,363.3 520.9,363.4 521.4,363.4 522.0,363.6 522.5,363.6 523.1,363.5 523.7,363.7 524.2,363.6 524.8,363.4 525.3,363.5 525.9,363.3 526.5,363.6 527.0,363.4 527.6,363.4 528.1,363.6 528.7,363.8 529.3,363.9 529.8,364.0 530.4,363.8 530.9,363.8 531.5,363.7 532.1,363.6 532.6,363.7 533.2,363.6 533.7,363.6 534.3,363.5 534.8,363.4 535.4,363.5 536.0,363.7 536.5,363.7 537.1,363.7 537.6,363.6 538.2,363.6 538.8,363.6 539.3,363.5 539.9,363.6 540.4,363.6 541.0,363.7 541.6,363.8 542.1,363.9 542.7,363.9 543.2,363.8 543.8,363.5 544.4,363.4 544.9,363.4 545.5,363.6 546.0,363.9 546.6,363.9 547.2,363.7 547.7,363.5 548.3,363.3 548.8,363.3 549.4,363.3 550.0,363.1 550.5,362.8 551.1,362.8 551.6,362.7 552.2,362.6 552.8,362.7 553.3,362.8 553.9,362.9 554.4,363.0 555.0,362.8 555.6,362.9 556.1,362.9 556.7,362.9 557.2,362.9 557.8,363.1 558.4,363.4 558.9,363.6 559.5,363.7 560.0,363.8 560.6,363.7 561.2,363.8 561.7,363.9 562.3,364.0 562.8,364.3 563.4,364.4 564.0,364.6 564.5,364.6 565.1,364.6 565.6,364.6 566.2,364.8 566.7,364.6 567.3,364.7 567.9,364.8 568.4,364.9 569.0,365.0 569.5,364.9 570.1,364.7 570.7,364.8 571.2,364.9 571.8,364.9 572.3,365.0 572.9,365.0 573.5,364.9 574.0,364.6 574.6,364.2 575.1,364.1 575.7,364.1 576.3,364.0 576.8,364.1 577.4,364.2 577.9,364.0 578.5,363.8 579.1,363.6 579.6,363.3 580.2,363.1 580.7,363.0 581.3,362.8 581.9,362.6 582.4,362.3 583.0,362.5 583.5,362.5 584.1,362.3 584.7,362.3 585.2,362.3 585.8,362.4 586.3,362.3 586.9,362.4 587.5,362.4 588.0,362.3 588.6,362.1 589.1,362.0 589.7,362.1 590.3,362.1 590.8,362.2 591.4,362.3 591.9,362.4 592.5,362.5 593.1,362.4 593.6,362.2 594.2,362.2 594.7,362.1 595.3,362.0 595.9,362.0 596.4,361.9 597.0,361.8 597.5,361.9 598.1,361.6 598.6,361.5 599.2,361.6 599.8,361.6 600.3,361.6 600.9,361.5 601.4,361.7 602.0,361.6 602.6,361.6 603.1,361.5 603.7,361.5 604.2,361.6 604.8,361.9 605.4,362.2 605.9,362.5 606.5,362.8 607.0,363.0 607.6,362.9 608.2,362.9 608.7,362.7 609.3,362.8 609.8,362.8 610.4,362.4 611.0,362.4 611.5,362.2 612.1,362.2 612.6,362.3 613.2,362.7 613.8,363.1 614.3,363.2 614.9,363.1 615.4,363.3 616.0,363.2 616.6,363.2 617.1,363.2 617.7,363.1 618.2,362.8 618.8,362.9 619.4,362.8 619.9,362.9 620.5,363.0 621.0,363.0 621.6,363.0 622.2,363.0 622.7,363.0 623.3,363.0 623.8,363.0 624.4,363.2 625.0,363.6 625.5,363.9 626.1,364.0 626.6,363.9 627.2,363.9 627.8,363.9 628.3,363.8 628.9,363.7 629.4,363.6 630.0,363.6 630.5,363.6 631.1,363.6 631.7,363.8 632.2,363.8 632.8,364.1 633.3,364.3 633.9,364.5 634.5,364.5 635.0,364.2 635.6,364.1 636.1,364.0 636.7,364.2 637.3,364.1 637.8,364.3 638.4,364.4 638.9,364.6 639.5,364.4 640.1,364.0 640.6,363.9 641.2,363.9 641.7,363.9 642.3,363.7 642.9,363.7 643.4,363.7 644.0,363.7 644.5,363.8 645.1,363.9 645.7,363.9 646.2,363.8 646.8,363.5 647.3,363.4 647.9,363.5 648.5,363.6 649.0,363.6 649.6,363.7 650.1,363.7 650.7,363.6 651.3,363.6 651.8,363.8 652.4,364.0 652.9,364.0 653.5,363.8 654.1,363.7 654.6,363.7 655.2,363.8 655.7,363.8 656.3,363.9 656.9,363.9 657.4,363.8 658.0,363.8 658.5,363.9 659.1,364.2 659.7,364.3 660.2,364.3 660.8,364.4 661.3,364.4 661.9,364.3 662.4,364.2 663.0,364.1 663.6,364.0 664.1,364.0 664.7,364.1 665.2,364.1 665.8,364.2 666.4,364.1 666.9,364.1 667.5,364.0 668.0,364.1" fill="none" stroke="#009E73" stroke-width="1.6" stroke-linejoin="round"/>
<polyline points="108.9,61.3 109.5,88.0 110.0,118.0 110.6,150.0 111.1,185.0 111.7,225.0 112.3,265.0 112.8,300.0 113.4,335.0 113.9,363.0 114.5,395.0 115.0,405.0 115.6,380.0 116.1,370.0 116.7,386.0 117.3,365.0 118.0,356.0 119.0,358.0 120.0,367.0 121.0,365.0 122.0,373.0 123.0,372.0 124.0,377.0 125.0,382.0 126.0,385.0 128.0,388.0 130.0,387.0 131.0,383.0 132.0,380.0 133.0,382.0 134.0,386.0 135.0,388.0 136.0,389.0 137.0,384.0 138.0,380.0 139.0,375.0 140.0,370.0 141.0,367.0 142.0,363.0 143.0,372.0 144.0,369.0 145.0,367.0 146.0,369.0 147.0,372.0 148.0,374.0 149.0,376.0 149.2,377.1 149.8,374.5 150.4,374.9 150.9,376.5 151.5,380.2 152.0,379.7 152.6,376.9 153.2,373.0 153.7,371.1 154.3,370.5 154.8,371.0 155.4,370.4 156.0,369.6 156.5,369.2 157.1,368.9 157.6,368.0 158.2,368.1 158.8,369.7 159.3,370.6 159.9,369.5 160.4,369.1 161.0,368.2 161.6,369.7 162.1,371.4 162.7,373.9 163.2,376.3 163.8,376.3 164.4,374.2 164.9,372.1 165.5,371.2 166.0,370.9 166.6,370.1 167.2,369.4 167.7,370.4 168.3,370.1 168.8,369.1 169.4,368.1 170.0,366.7 170.5,365.6 171.1,365.4 171.6,365.5 172.2,362.8 172.8,361.3 173.3,361.0 173.9,360.7 174.4,360.5 175.0,360.1 175.6,360.3 176.1,359.9 176.7,359.3 177.2,358.7 177.8,358.9 178.4,359.5 178.9,361.1 179.5,362.3 180.0,362.6 180.6,362.9 181.1,362.4 181.7,362.1 182.3,361.6 182.8,361.9 183.4,362.2 183.9,362.2 184.5,363.5 185.1,365.3 185.6,365.6 186.2,365.8 186.7,365.7 187.3,365.2 187.9,365.1 188.4,364.3 189.0,363.0 189.5,363.2 190.1,362.3 190.7,361.7 191.2,361.5 191.8,360.3 192.3,359.3 192.9,357.4 193.5,356.4 194.0,355.3 194.6,354.9 195.1,354.9 195.7,354.7 196.3,353.6 196.8,353.5 197.4,353.5 197.9,353.6 198.5,354.4 199.1,355.4 199.6,356.3 200.2,356.9 200.7,356.6 201.3,356.5 201.9,357.0 202.4,357.1 203.0,357.4 203.5,357.2 204.1,358.2 204.7,360.2 205.2,361.2 205.8,362.1 206.3,362.6 206.9,363.7 207.5,365.0 208.0,366.1 208.6,365.0 209.1,363.5 209.7,361.4 210.3,359.8 210.8,357.5 211.4,355.6 211.9,353.8 212.5,352.4 213.0,352.8 213.6,353.6 214.2,353.5 214.7,353.8 215.3,354.1 215.8,354.7 216.4,355.5 217.0,356.6 217.5,356.7 218.1,357.2 218.6,357.2 219.2,358.2 219.8,358.4 220.3,358.3 220.9,357.9 221.4,359.0 222.0,359.5 222.6,360.2 223.1,359.9 223.7,358.7 224.2,357.9 224.8,357.6 225.4,357.4 225.9,357.9 226.5,357.7 227.0,357.5 227.6,356.9 228.2,356.3 228.7,356.6 229.3,356.7 229.8,356.6 230.4,356.1 231.0,355.3 231.5,355.7 232.1,355.6 232.6,355.4 233.2,355.5 233.8,355.4 234.3,356.4 234.9,356.2 235.4,356.4 236.0,357.0 236.6,356.9 237.1,356.9 237.7,357.0 238.2,357.4 238.8,357.1 239.4,356.2 239.9,355.9 240.5,356.4 241.0,356.5 241.6,355.5 242.2,355.4 242.7,355.2 243.3,355.5 243.8,355.4 244.4,355.1 244.9,354.7 245.5,355.3 246.1,357.0 246.6,357.6 247.2,358.0 247.7,359.3 248.3,360.3 248.9,360.7 249.4,360.6 250.0,360.6 250.5,360.0 251.1,359.3 251.7,358.6 252.2,357.8 252.8,357.4 253.3,356.8 253.9,356.2 254.5,355.7 255.0,355.6 255.6,355.5 256.1,355.1 256.7,354.7 257.3,354.2 257.8,353.9 258.4,353.6 258.9,353.7 259.5,354.2 260.1,354.1 260.6,353.8 261.2,353.9 261.7,354.1 262.3,354.3 262.9,353.8 263.4,352.9 264.0,352.3 264.5,352.0 265.1,351.9 265.7,351.2 266.2,350.9 266.8,350.4 267.3,350.1 267.9,350.5 268.5,350.9 269.0,351.2 269.6,351.0 270.1,350.8 270.7,350.4 271.3,350.5 271.8,350.8 272.4,351.5 272.9,351.8 273.5,351.5 274.1,351.4 274.6,351.1 275.2,351.0 275.7,351.1 276.3,350.7 276.8,350.5 277.4,350.3 278.0,350.1 278.5,350.3 279.1,351.0 279.6,351.4 280.2,351.6 280.8,351.1 281.3,350.8 281.9,350.8 282.4,350.2 283.0,350.2 283.6,350.5 284.1,350.7 284.7,351.0 285.2,350.9 285.8,351.2 286.4,351.0 286.9,350.8 287.5,351.5 288.0,351.9 288.6,352.4 289.2,352.7 289.7,352.6 290.3,352.5 290.8,352.6 291.4,352.4 292.0,352.5 292.5,353.1 293.1,353.8 293.6,353.8 294.2,353.6 294.8,353.0 295.3,353.1 295.9,353.5 296.4,354.0 297.0,354.1 297.6,353.8 298.1,353.7 298.7,353.7 299.2,353.5 299.8,353.6 300.4,353.9 300.9,354.3 301.5,354.3 302.0,353.8 302.6,353.6 303.2,354.1 303.7,354.6 304.3,355.1 304.8,355.4 305.4,356.0 306.0,356.7 306.5,357.0 307.1,356.8 307.6,356.5 308.2,356.4 308.7,356.0 309.3,355.4 309.9,354.8 310.4,354.8 311.0,354.7 311.5,355.3 312.1,355.7 312.7,355.9 313.2,355.7 313.8,355.4 314.3,355.7 314.9,356.0 315.5,356.5 316.0,356.9 316.6,357.1 317.1,357.2 317.7,357.0 318.3,356.8 318.8,356.7 319.4,356.7 319.9,356.6 320.5,356.2 321.1,355.9 321.6,355.4 322.2,355.3 322.7,354.8 323.3,354.6 323.9,355.2 324.4,355.5 325.0,355.4 325.5,355.3 326.1,355.6 326.7,355.7 327.2,355.8 327.8,355.9 328.3,355.7 328.9,356.5 329.5,357.1 330.0,357.4 330.6,357.5 331.1,357.7 331.7,358.1 332.3,358.6 332.8,359.2 333.4,359.3 333.9,359.5 334.5,359.3 335.1,359.1 335.6,358.6 336.2,358.2 336.7,357.8 337.3,357.6 337.9,357.4 338.4,357.6 339.0,357.9 339.5,358.1 340.1,358.2 340.6,358.1 341.2,358.5 341.8,358.2 342.3,358.2 342.9,357.8 343.4,357.7 344.0,357.9 344.6,357.8 345.1,357.8 345.7,357.5 346.2,357.8 346.8,358.2 347.4,358.6 347.9,358.6 348.5,358.4 349.0,358.6 349.6,358.7 350.2,358.8 350.7,359.0 351.3,358.9 351.8,359.1 352.4,359.3 353.0,359.3 353.5,359.1 354.1,358.9 354.6,358.5 355.2,358.4 355.8,358.5 356.3,358.6 356.9,359.0 357.4,359.3 358.0,358.9 358.6,359.0 359.1,359.1 359.7,359.2 360.2,359.4 360.8,359.2 361.4,359.0 361.9,358.9 362.5,359.1 363.0,359.0 363.6,358.6 364.2,358.6 364.7,358.2 365.3,358.4 365.8,358.3 366.4,358.0 367.0,357.9 367.5,358.1 368.1,357.8 368.6,358.0 369.2,357.9 369.8,358.1 370.3,358.0 370.9,357.5 371.4,357.1 372.0,357.0 372.5,357.2 373.1,357.6 373.7,357.9 374.2,358.0 374.8,357.9 375.3,357.8 375.9,357.7 376.5,357.6 377.0,357.0 377.6,356.7 378.1,356.7 378.7,357.3 379.3,357.9 379.8,358.3 380.4,358.6 380.9,358.6 381.5,358.6 382.1,358.3 382.6,358.5 383.2,358.6 383.7,358.4 384.3,358.2 384.9,358.2 385.4,358.3 386.0,358.4 386.5,358.2 387.1,357.8 387.7,357.5 388.2,357.5 388.8,357.3 389.3,356.8 389.9,356.7 390.5,356.2 391.0,356.0 391.6,356.0 392.1,356.1 392.7,356.5 393.3,356.8 393.8,357.1 394.4,357.0 394.9,356.6 395.5,356.5 396.1,356.6 396.6,356.8 397.2,357.3 397.7,357.6 398.3,358.0 398.9,358.4 399.4,358.7 400.0,359.0 400.5,359.1 401.1,359.5 401.7,359.7 402.2,360.0 402.8,360.2 403.3,360.6 403.9,360.9 404.5,361.3 405.0,361.5 405.6,361.3 406.1,361.5 406.7,361.5 407.2,361.6 407.8,361.6 408.4,361.2 408.9,361.1 409.5,361.2 410.0,361.2 410.6,361.3 411.2,361.2 411.7,361.0 412.3,360.9 412.8,360.7 413.4,361.1 414.0,361.0 414.5,361.1 415.1,361.4 415.6,361.2 416.2,360.8 416.8,360.7 417.3,360.5 417.9,360.6 418.4,360.9 419.0,361.1 419.6,361.1 420.1,360.7 420.7,360.8 421.2,361.0 421.8,361.3 422.4,361.6 422.9,361.6 423.5,362.1 424.0,362.6 424.6,363.2 425.2,363.5 425.7,363.5 426.3,363.5 426.8,363.5 427.4,363.4 428.0,363.4 428.5,363.6 429.1,363.8 429.6,363.9 430.2,364.2 430.8,364.4 431.3,364.0 431.9,363.7 432.4,363.5 433.0,363.6 433.6,363.6 434.1,363.6 434.7,363.5 435.2,363.6 435.8,363.5 436.4,363.5 436.9,363.3 437.5,363.4 438.0,363.4 438.6,363.1 439.1,363.1 439.7,362.9 440.3,362.8 440.8,362.8 441.4,363.0 441.9,363.2 442.5,363.1 443.1,363.0 443.6,362.6 444.2,362.6 444.7,362.7 445.3,362.9 445.9,363.0 446.4,362.6 447.0,362.6 447.5,362.6 448.1,362.6 448.7,362.6 449.2,362.6 449.8,362.7 450.3,362.6 450.9,362.7 451.5,362.7 452.0,362.7 452.6,363.0 453.1,363.4 453.7,363.6 454.3,363.4 454.8,363.5 455.4,363.6 455.9,363.7 456.5,363.6 457.1,363.4 457.6,363.1 458.2,362.9 458.7,363.0 459.3,363.2 459.9,363.1 460.4,363.1 461.0,363.1 461.5,363.0 462.1,362.8 462.7,363.0 463.2,363.2 463.8,363.4 464.3,363.4 464.9,363.4 465.5,363.0 466.0,362.8 466.6,362.8 467.1,363.1 467.7,363.4 468.3,363.6 468.8,363.7 469.4,363.6 469.9,363.6 470.5,363.6 471.0,363.7 471.6,363.9 472.2,364.0 472.7,363.9 473.3,363.8 473.8,363.6 474.4,363.3 475.0,363.4 475.5,363.4 476.1,363.5 476.6,363.6 477.2,363.8 477.8,363.8 478.3,364.0 478.9,364.1 479.4,364.2 480.0,364.3 480.6,364.3 481.1,364.2 481.7,364.2 482.2,364.3 482.8,364.4 483.4,364.4 483.9,364.5 484.5,364.8 485.0,365.0 485.6,365.3 486.2,365.3 486.7,365.2 487.3,365.2 487.8,365.2 488.4,365.1 489.0,365.2 489.5,365.3 490.1,365.1 490.6,364.8 491.2,364.8 491.8,364.7 492.3,364.7 492.9,364.5 493.4,364.2 494.0,363.8 494.6,363.5 495.1,363.5 495.7,363.5 496.2,363.7 496.8,363.7 497.4,363.7 497.9,363.8 498.5,364.0 499.0,364.1 499.6,364.0 500.2,364.0 500.7,363.9 501.3,364.2 501.8,364.5 502.4,364.8 502.9,364.8 503.5,364.8 504.1,364.7 504.6,364.8 505.2,365.1 505.7,365.6 506.3,366.0 506.9,366.4 507.4,367.0 508.0,367.1 508.5,367.0 509.1,367.0 509.7,366.9 510.2,366.9 510.8,367.0 511.3,367.0 511.9,367.1 512.5,367.0 513.0,367.2 513.6,367.5 514.1,367.6 514.7,367.6 515.3,367.5 515.8,367.5 516.4,367.8 516.9,367.8 517.5,368.0 518.1,367.9 518.6,367.8 519.2,367.6 519.7,367.7 520.3,367.9 520.9,368.1 521.4,368.1 522.0,368.2 522.5,368.0 523.1,367.9 523.7,368.1 524.2,368.1 524.8,368.2 525.3,368.2 525.9,368.1 526.5,368.0 527.0,368.1 527.6,368.1 528.1,368.2 528.7,368.2 529.3,368.3 529.8,368.3 530.4,368.5 530.9,368.8 531.5,368.9 532.1,368.7 532.6,368.8 533.2,368.9 533.7,368.9 534.3,368.7 534.8,368.5 535.4,368.5 536.0,368.4 536.5,368.3 537.1,368.3 537.6,368.4 538.2,368.4 538.8,368.3 539.3,368.1 539.9,368.1 540.4,368.2 541.0,368.2 541.6,368.0 542.1,367.7 542.7,367.6 543.2,367.4 543.8,367.3 544.4,367.3 544.9,367.2 545.5,367.2 546.0,367.2 546.6,367.0 547.2,366.8 547.7,366.9 548.3,366.8 548.8,366.7 549.4,366.7 550.0,366.7 550.5,366.6 551.1,366.5 551.6,366.5 552.2,366.6 552.8,366.9 553.3,367.1 553.9,367.3 554.4,367.3 555.0,367.3 555.6,367.2 556.1,367.2 556.7,367.3 557.2,367.5 557.8,367.6 558.4,367.8 558.9,367.9 559.5,367.8 560.0,367.9 560.6,367.6 561.2,367.5 561.7,367.5 562.3,367.4 562.8,367.5 563.4,367.5 564.0,367.5 564.5,367.4 565.1,367.3 565.6,367.3 566.2,367.3 566.7,367.5 567.3,367.6 567.9,367.6 568.4,367.5 569.0,367.4 569.5,367.4 570.1,367.5 570.7,367.6 571.2,367.9 571.8,368.1 572.3,368.2 572.9,368.2 573.5,368.1 574.0,368.0 574.6,368.0 575.1,368.1 575.7,368.1 576.3,368.2 576.8,368.3 577.4,368.4 577.9,368.6 578.5,368.7 579.1,368.7 579.6,368.7 580.2,368.7 580.7,368.8 581.3,368.8 581.9,368.8 582.4,369.1 583.0,369.2 583.5,369.3 584.1,369.3 584.7,369.2 585.2,369.1 585.8,369.3 586.3,369.5 586.9,369.6 587.5,369.8 588.0,369.8 588.6,370.0 589.1,370.0 589.7,370.0 590.3,370.0 590.8,370.0 591.4,370.1 591.9,370.2 592.5,369.9 593.1,369.9 593.6,370.1 594.2,370.4 594.7,370.5 595.3,370.5 595.9,370.5 596.4,370.4 597.0,370.5 597.5,370.5 598.1,370.7 598.6,371.0 599.2,371.0 599.8,371.1 600.3,371.0 600.9,370.7 601.4,370.4 602.0,370.1 602.6,369.9 603.1,369.6 603.7,369.3 604.2,369.5 604.8,370.0 605.4,370.1 605.9,370.1 606.5,369.8 607.0,369.6 607.6,369.4 608.2,369.3 608.7,369.5 609.3,369.5 609.8,369.6 610.4,369.3 611.0,369.2 611.5,369.0 612.1,368.8 612.6,368.6 613.2,368.5 613.8,368.3 614.3,368.4 614.9,368.5 615.4,368.6 616.0,368.6 616.6,368.6 617.1,368.7 617.7,368.6 618.2,368.6 618.8,368.6 619.4,368.6 619.9,368.7 620.5,369.1 621.0,369.1 621.6,369.0 622.2,368.9 622.7,368.8 623.3,368.6 623.8,368.6 624.4,368.6 625.0,368.7 625.5,368.6 626.1,368.4 626.6,368.4 627.2,368.3 627.8,368.4 628.3,368.5 628.9,368.5 629.4,368.7 630.0,368.8 630.5,368.9 631.1,368.9 631.7,368.9 632.2,368.8 632.8,368.8 633.3,368.7 633.9,368.7 634.5,368.9 635.0,368.8 635.6,368.8 636.1,368.8 636.7,368.9 637.3,368.9 637.8,369.0 638.4,368.9 638.9,369.0 639.5,369.1 640.1,369.1 640.6,369.2 641.2,369.1 641.7,369.1 642.3,369.2 642.9,369.2 643.4,369.4 644.0,369.4 644.5,369.2 645.1,369.0 645.7,368.8 646.2,368.8 646.8,368.9 647.3,368.9 647.9,369.1 648.5,369.1 649.0,369.1 649.6,368.9 650.1,369.0 650.7,368.9 651.3,368.8 651.8,368.9 652.4,369.0 652.9,369.0 653.5,369.0 654.1,369.0 654.6,369.2 655.2,369.1 655.7,369.1 656.3,369.2 656.9,369.3 657.4,369.6 658.0,369.6 658.5,369.5 659.1,369.5 659.7,369.6 660.2,369.7 660.8,369.7 661.3,369.8 661.9,369.8 662.4,369.8 663.0,369.6 663.6,369.5 664.1,369.5 664.7,369.5 665.2,369.5 665.8,369.3 666.4,369.1 666.9,368.9 667.5,368.8 668.0,368.7" fill="none" stroke="#CC79A7" stroke-width="1.6" stroke-linejoin="round"/>
<rect x="81" y="39" width="615" height="497" fill="none" stroke="#000" stroke-width="1"/>
<line x1="74.5" y1="168.5" x2="81" y2="168.5" stroke="#000" stroke-width="1"/>
<text x="69.9" y="174.0" text-anchor="end" class="tk">5.00</text>
<line x1="74.5" y1="310.5" x2="81" y2="310.5" stroke="#000" stroke-width="1"/>
<text x="69.9" y="316.0" text-anchor="end" class="tk">4.98</text>
<line x1="74.5" y1="452.5" x2="81" y2="452.5" stroke="#000" stroke-width="1"/>
<text x="69.9" y="458.0" text-anchor="end" class="tk">4.96</text>
<line x1="108.39" y1="536" x2="108.39" y2="542.5" stroke="#000" stroke-width="1"/>
<text x="108.59" y="560.1" text-anchor="middle" class="tk">0</text>
<line x1="388.22" y1="536" x2="388.22" y2="542.5" stroke="#000" stroke-width="1"/>
<text x="388.42" y="560.1" text-anchor="middle" class="tk">500</text>
<line x1="668.05" y1="536" x2="668.05" y2="542.5" stroke="#000" stroke-width="1"/>
<path d="M264 0L354 0L354 709L282 709C262 640 226 590 96 576L96 507L264 507Z" transform="translate(650.0,560.0) scale(0.016,-0.016)" fill="#000"/>
<text x="685.15" y="560.1" text-anchor="end" class="tk">000</text>
<text x="374.3" y="30.6" class="tb" style="letter-spacing:0.35px">tvcl</text>
<text x="388.5" y="581" text-anchor="middle" class="t">iteration</text>
<text transform="translate(30.8,287) rotate(-90)" text-anchor="middle" class="t">Cumulative mean</text>
<rect x="720" y="221" width="64" height="132" fill="#fff" stroke="#000" stroke-width="1"/>
<text x="752" y="244" text-anchor="middle" class="tb">Chain</text>
<line x1="735" y1="265.75" x2="755" y2="265.75" stroke="#0072B2" stroke-width="1.5"/>
<path d="M264 0L354 0L354 709L282 709C262 640 226 590 96 576L96 507L264 507Z" transform="translate(759.96,271.75) scale(0.016,-0.016)" fill="#000"/>
<line x1="735" y1="288.75" x2="755" y2="288.75" stroke="#E69F00" stroke-width="1.5"/>
<text x="760.2" y="294.95" class="tk">2</text>
<line x1="735" y1="311.75" x2="755" y2="311.75" stroke="#009E73" stroke-width="1.5"/>
<text x="760.2" y="317.95" class="tk">3</text>
<line x1="735" y1="334.75" x2="755" y2="334.75" stroke="#CC79A7" stroke-width="1.5"/>
<text x="760.2" y="340.95" class="tk">4</text>
</svg>
</body></html>
